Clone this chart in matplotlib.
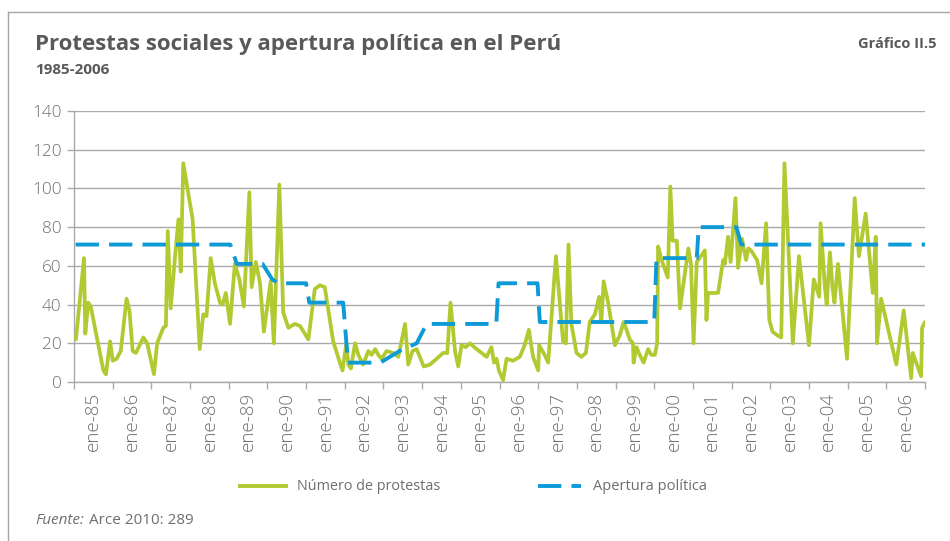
import matplotlib
matplotlib.use("Agg")
import matplotlib.pyplot as plt
from matplotlib.lines import Line2D

# ---------------- data ----------------
year_labels = ["ene-85", "ene-86", "ene-87", "ene-88", "ene-89", "ene-90", "ene-91",
               "ene-92", "ene-93", "ene-94", "ene-95", "ene-96", "ene-97", "ene-98",
               "ene-99", "ene-00", "ene-01", "ene-02", "ene-03", "ene-04", "ene-05",
               "ene-06"]
y_ticks = [0, 20, 40, 60, 80, 100, 120, 140]

# month index since Jan 1985 (fractional) and number of protests
protest_month = [0.1, 2.6, 3.0, 3.9, 4.7, 8.6, 9.4, 10.7, 11.5, 12.7, 14.0, 15.8, 16.7,
                 17.7, 18.7, 21.0, 22.2, 24.3, 25.3, 27.2, 28.0, 28.6, 29.5, 30.8, 31.9,
                 32.6, 33.4, 36.3, 38.5, 39.6, 40.6, 41.9, 43.2, 44.8, 45.6, 46.6, 47.9,
                 49.4, 50.8, 52.2, 53.9, 54.6, 55.9, 57.2, 58.4, 60.5, 61.5, 63.2, 64.4,
                 66.0, 68.0, 69.6, 72.2, 74.2, 75.8, 77.3, 79.9, 81.8, 82.8, 84.0, 84.6,
                 85.4, 86.7, 87.7, 89.2, 90.8, 91.8, 92.9, 93.9, 94.9, 96.5, 98.5, 100.1,
                 102.2, 103.2, 104.5, 105.8, 108.0, 109.9, 112.0, 114.0, 115.3, 116.3,
                 117.7, 118.7, 119.7, 121.0, 122.3, 124.4, 127.5, 129.0, 129.8, 130.6,
                 131.3, 132.6, 133.7, 135.7, 137.8, 139.3, 140.6, 141.9, 143.5, 143.8,
                 145.5, 146.6, 149.0, 151.2, 152.1, 152.9, 153.8, 155.4, 156.9, 158.3,
                 159.5, 161.1, 162.4, 163.1, 163.8, 165.2, 167.3, 168.8, 170.0, 170.9,
                 171.9, 172.9, 173.1, 174.0, 175.0, 176.2, 177.6, 178.6, 179.7, 180.4,
                 180.7, 181.8, 183.7, 184.5, 185.2, 186.5, 187.5, 190.1, 190.9, 191.7,
                 192.7, 195.2, 195.7, 196.2, 199.3, 200.9, 201.4, 202.4, 203.2, 204.7,
                 205.5, 206.7, 208.0, 208.7, 209.5, 211.4, 212.8, 214.2, 215.2, 216.2,
                 217.8, 218.9, 219.9, 222.5, 224.4, 227.5, 229.0, 230.7, 231.1, 232.4,
                 233.0, 234.0, 234.8, 235.4, 236.5, 239.3, 241.7, 243.0, 245.1, 247.3,
                 248.2, 248.6, 249.9, 254.6, 256.9, 259.2, 259.7, 262.3, 262.6, 263.5]
protest_count = [22, 64, 25, 41, 39, 6, 4, 21, 11, 12, 16, 43, 37,
                 16, 15, 23, 20, 4, 20, 28, 29, 78, 38, 64, 84,
                 57, 113, 84, 17, 35, 34, 64, 51, 41, 40, 46, 30,
                 61, 53, 39, 98, 49, 62, 51, 26, 52, 20, 102, 36,
                 28, 30, 29, 22, 48, 50, 49, 21, 11, 6, 20, 9,
                 7, 20, 14, 9, 16, 14, 17, 14, 12, 16, 15, 13,
                 30, 9, 16, 17, 8, 9, 12, 15, 15, 41,
                 16, 8, 19, 18, 20, 17, 13, 18, 10, 12,
                 6, 1, 12, 11, 13, 19, 27, 13, 6, 19,
                 14, 10, 65, 21, 20, 71, 30, 15, 13, 15,
                 31, 35, 44, 31, 52, 41, 19, 24, 31, 27,
                 22, 20, 10, 18, 14, 10, 17, 14, 14, 20,
                 70, 63, 54, 101, 73, 73, 38, 69, 61, 20,
                 62, 68, 32, 46, 46, 63, 61, 75, 62, 95,
                 59, 74, 63, 69, 68, 63, 51, 82, 32, 26,
                 24, 23, 113, 20, 65, 19, 53, 44, 82, 50,
                 40, 67, 49, 41, 61, 12, 95, 65, 87, 46,
                 75, 20, 43, 9, 37, 2, 15, 3, 28, 31]

# political opening index (vertices of the monthly line)
apertura_month = [0, 48, 50, 58, 61, 63, 71.5, 72.5, 83, 84.5, 94.5, 100.5, 105.8,
                  108.9, 130.5, 131.2, 143.3, 144, 179.5, 180.2, 192.7, 193.3, 205,
                  206.5, 263.5]
apertura_value = [71, 71, 61, 61, 53, 51, 51, 41, 41, 10, 10, 16, 20,
                  30, 30, 51, 51, 31, 31, 64, 64, 80, 80,
                  71, 71]

# ---------------- style ----------------
GREEN = "#b3c931"
BLUE = "#0e9ad7"
GRID = "#a9a9a9"
TXT = "#58595b"
LIGHT = "#6d6e71"
FONT = "Open Sans"

W, H = 950, 541
fig = plt.figure(figsize=(W / 100, H / 100), dpi=100)
fig.patch.set_facecolor("white")

def fx(px):
    return px / W

def fy(py):
    return 1 - py / H

# frame lines (top and left)
fig.add_artist(Line2D([fx(8), fx(950)], [fy(12), fy(12)], color="#a6a6a6", lw=1.0))
fig.add_artist(Line2D([fx(8), fx(8)], [fy(12), fy(541)], color="#a6a6a6", lw=1.0))

ax = fig.add_axes([fx(74), fy(382), fx(925) - fx(74), fy(111) - fy(382)])

ax.plot(protest_month, protest_count, color=GREEN, lw=2.7, solid_joinstyle="round",
        solid_capstyle="round", zorder=3, label="Número de protestas")
ax.plot(apertura_month, apertura_value, color=BLUE, lw=2.8, dashes=(6.0, 2.6),
        dash_capstyle="butt", zorder=4, label="Apertura política")

ax.set_xlim(-0.5, 263.5)
ax.set_ylim(0, 140)
ax.set_yticks(y_ticks)
ax.set_yticklabels([str(v) for v in y_ticks], fontfamily=FONT, fontweight="light",
                   fontsize=12.3, color=LIGHT)
ax.grid(axis="y", color=GRID, lw=1.0, zorder=0)
ax.tick_params(axis="y", length=5, color=GRID, width=1.0, pad=4)

n_years = len(year_labels)
ax.set_xticks([-0.5 + 12 * k for k in range(n_years + 1)])
ax.set_xticks([5.5 + 12 * k for k in range(n_years)], minor=True)
ax.set_xticklabels([])
ax.set_xticklabels(year_labels, minor=True, rotation=90, fontfamily=FONT,
                   fontweight="light", fontsize=13.5, color=LIGHT)
ax.tick_params(axis="x", which="major", length=5, color=GRID, width=1.0)
ax.tick_params(axis="x", which="minor", length=0, pad=7)

for s in ["top", "right"]:
    ax.spines[s].set_visible(False)
for s in ["left", "bottom"]:
    ax.spines[s].set_color(GRID)
    ax.spines[s].set_linewidth(1.0)

# titles
fig.text(fx(35), fy(45), "Protestas sociales y apertura política en el Perú",
         fontfamily=FONT, fontweight="bold", fontsize=16, color=TXT, va="center", ha="left")
fig.text(fx(35), fy(70), "1985-2006", fontfamily=FONT, fontweight="bold", fontsize=11,
         color=TXT, va="center", ha="left")
fig.text(fx(936), fy(44), "Gráfico II.5", fontfamily=FONT, fontweight="bold", fontsize=10.5,
         color=TXT, va="center", ha="right")

# legend (manual)
fig.add_artist(Line2D([fx(240), fx(286)], [fy(486), fy(486)], color=GREEN, lw=2.8))
fig.text(fx(297), fy(486), "Número de protestas", fontfamily=FONT, fontsize=10.4,
         color=LIGHT, va="center", ha="left")
fig.add_artist(Line2D([fx(538), fx(581)], [fy(486), fy(486)], color=BLUE, lw=2.8,
                      dashes=(6.0, 2.6)))
fig.text(fx(593), fy(486), "Apertura política", fontfamily=FONT, fontsize=10.5,
         color=LIGHT, va="center", ha="left")

# source
fig.text(fx(35), fy(520), "Fuente:", fontfamily=FONT, fontstyle="italic",
         fontsize=11, color=LIGHT, va="center", ha="left")
fig.text(fx(89), fy(520), "Arce 2010: 289", fontfamily=FONT, fontsize=11,
         color=LIGHT, va="center", ha="left")

fig.savefig("out.png", dpi=100, facecolor="white")
